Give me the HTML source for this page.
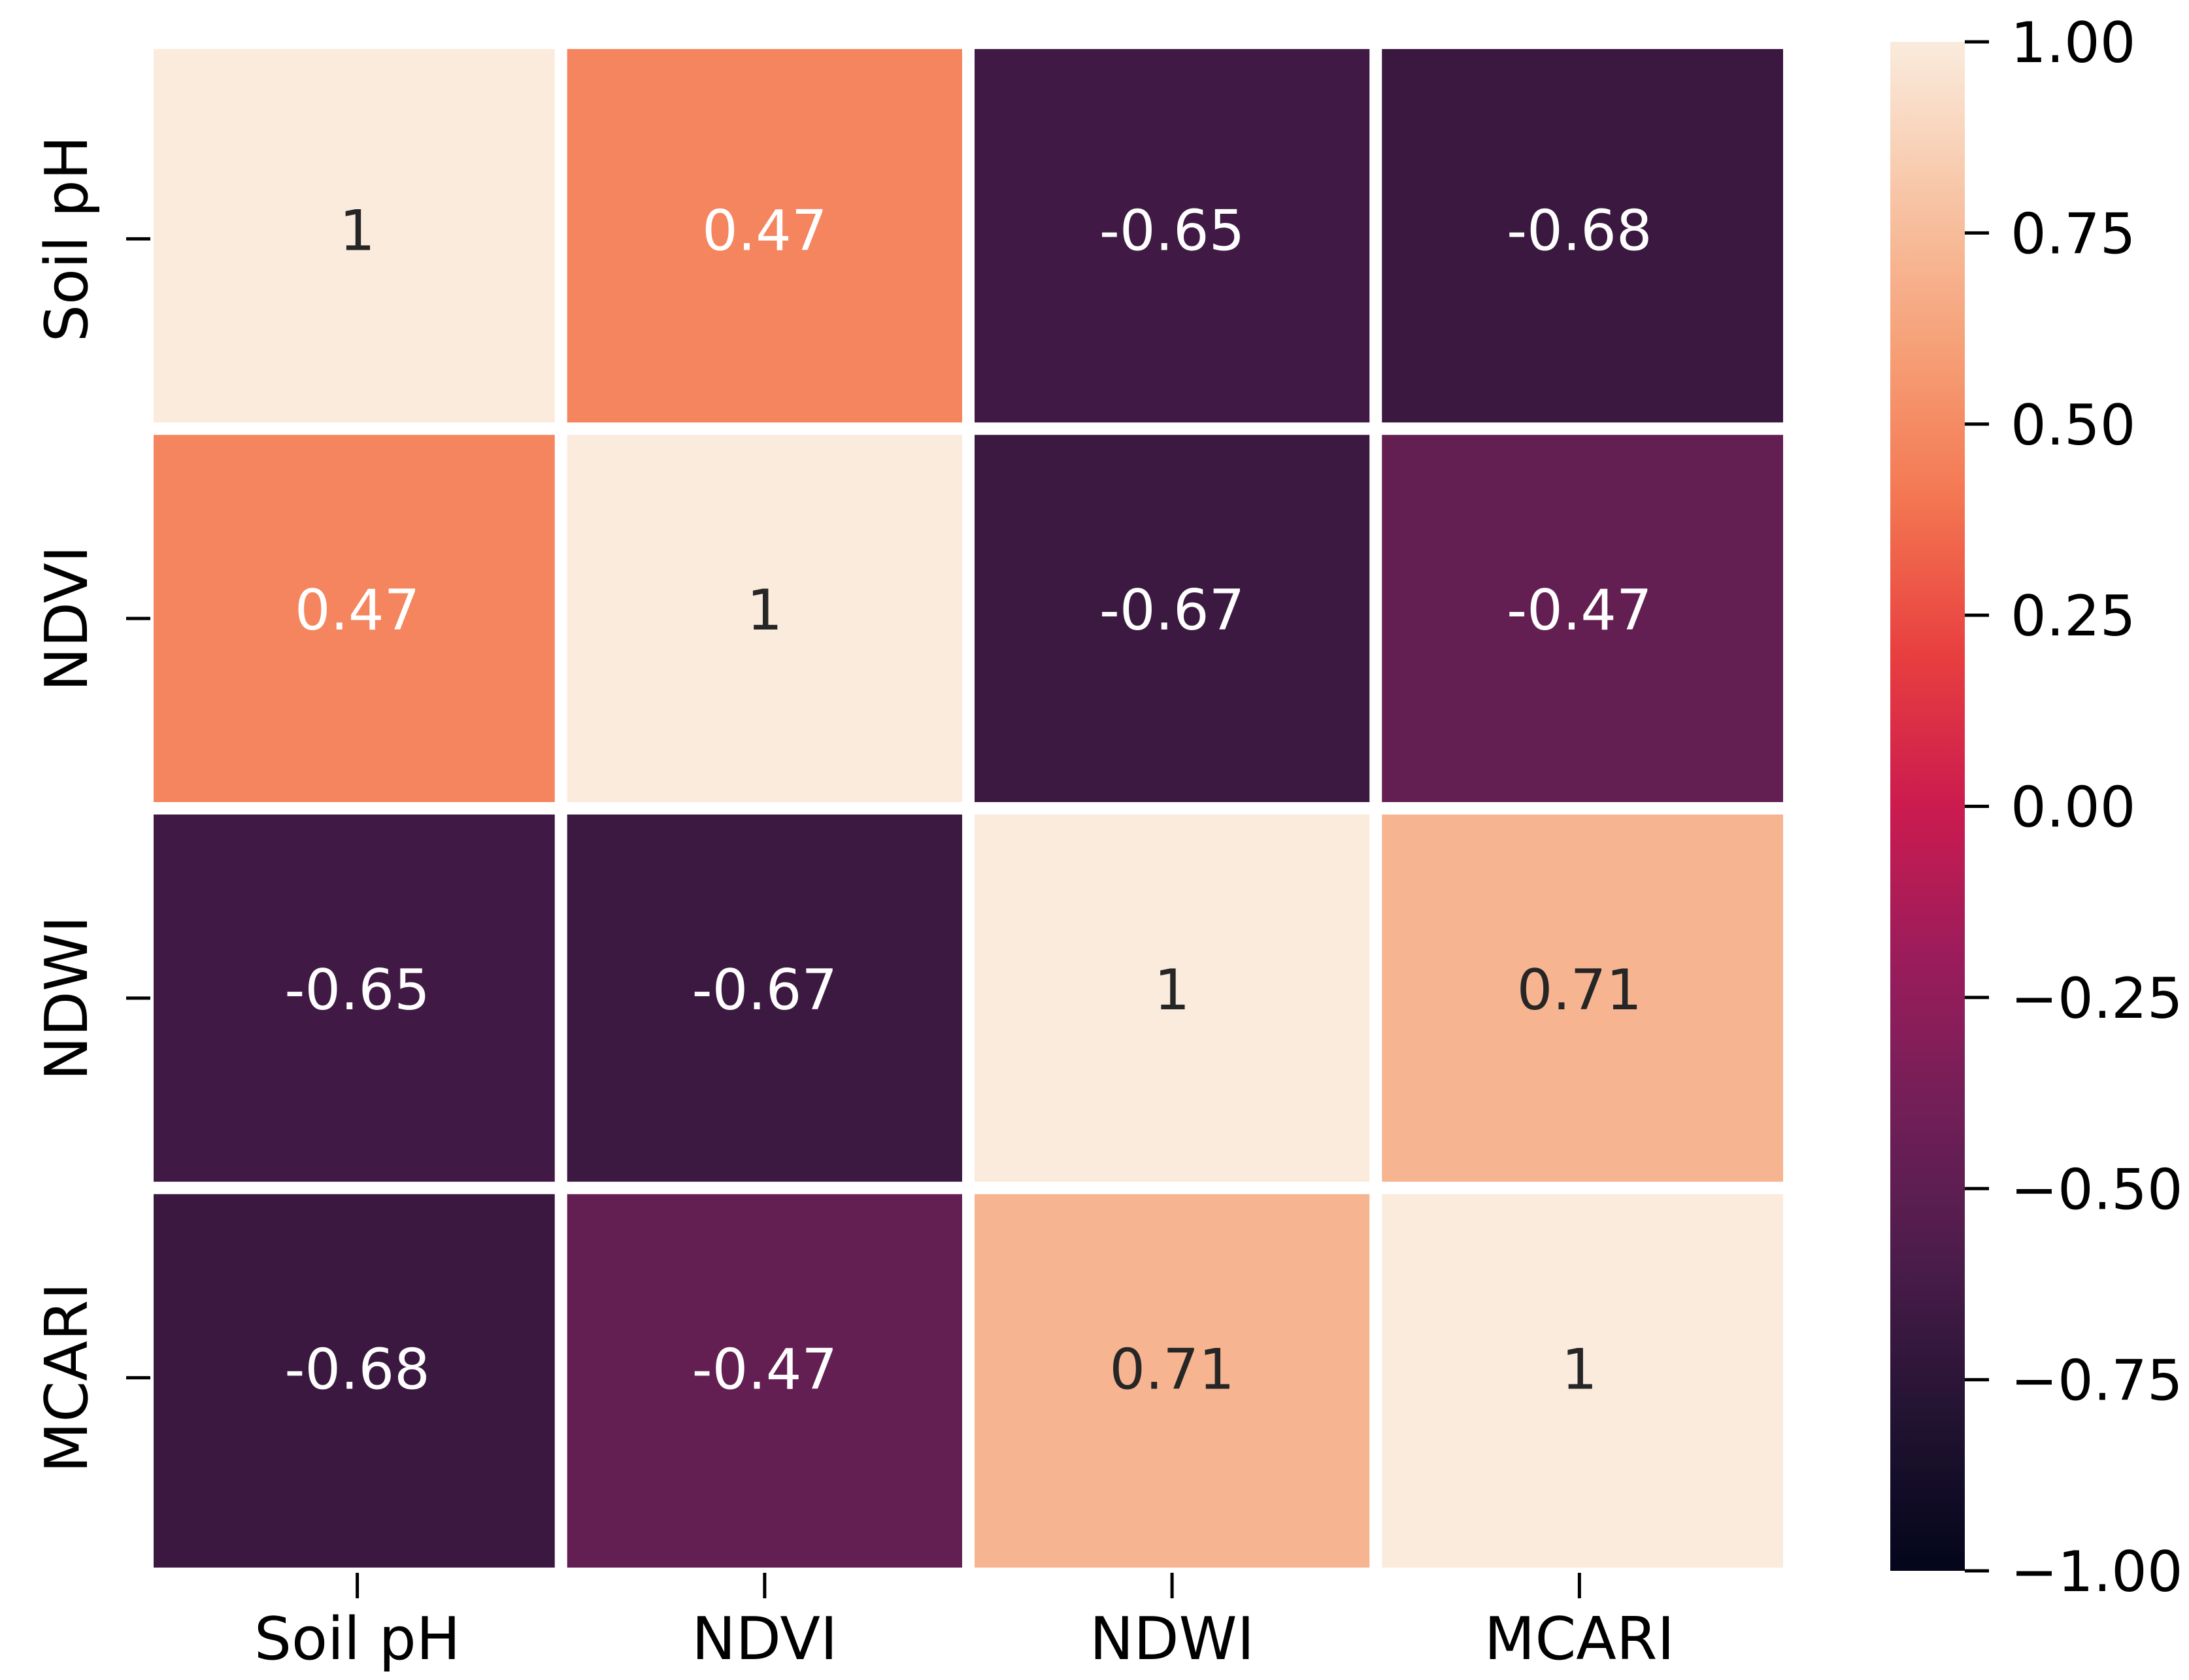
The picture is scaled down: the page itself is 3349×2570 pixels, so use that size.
<!DOCTYPE html>
<html><head><meta charset="utf-8"><style>
html,body{margin:0;padding:0;background:#fff;width:3349px;height:2570px;overflow:hidden}
svg text{font-family:"DejaVu Sans","Liberation Sans",sans-serif}
</style></head><body>
<svg id="chart" width="3349" height="2570" viewBox="0 0 3349 2570" xmlns="http://www.w3.org/2000/svg">
<defs><linearGradient id="cbgrad" x1="0" y1="1" x2="0" y2="0"></linearGradient></defs>
<g id="cells"></g><g id="axes"></g><g id="cbar"></g>
</svg>
<script>
const labels = ["Soil pH","NDVI","NDWI","MCARI"];
const row0 = [1, 0.47, -0.65, -0.68];
const row1 = [0.47, 1, -0.67, -0.47];
const row2 = [-0.65, -0.67, 1, 0.71];
const row3 = [-0.68, -0.47, 0.71, 1];
const matrix = [row0,row1,row2,row3];
const cbTicks = [1.00,0.75,0.50,0.25,0.00,-0.25,-0.50,-0.75,-1.00];
const cbTickLabels = ["1.00","0.75","0.50","0.25","0.00","\u22120.25","\u22120.50","\u22120.75","\u22121.00"];

const NS="http://www.w3.org/2000/svg";
const stops=[[0,"#03051a"],[0.1,"#221331"],[0.2,"#4a1c4a"],[0.3,"#711f57"],[0.4,"#9a1c5b"],[0.5,"#cb1b4f"],[0.6,"#e83f3f"],[0.7,"#f37651"],[0.8,"#f6a077"],[0.9,"#f7c5a6"],[1,"#faebdd"]];
function hex(h){return [1,3,5].map(i=>parseInt(h.substr(i,2),16));}
function cmap(v){const t=Math.max(0,Math.min(1,(v+1)/2));
 for(let i=0;i<stops.length-1;i++){const [a,ca]=stops[i],[b,cb]=stops[i+1];
  if(t<=b){const f=(t-a)/(b-a),A=hex(ca),B=hex(cb);return A.map((x,k)=>Math.round(x+(B[k]-x)*f));}}
 return hex(stops[stops.length-1][1]);}
function lum(c){const l=c.map(x=>{x/=255;return x<=0.03928?x/12.92:Math.pow((x+0.055)/1.055,2.4)});return 0.2126*l[0]+0.7152*l[1]+0.0722*l[2];}
const X0=235,X1=2728,Y0=75,Y1=2398,n=labels.length,gap=19;
const cw=(X1-X0)/n,ch=(Y1-Y0)/n;
const xs=i=>X0+i*cw, ys=j=>Y0+j*ch;
function el(tag,attrs,parent){const e=document.createElementNS(NS,tag);for(const k in attrs)e.setAttribute(k,attrs[k]);parent.appendChild(e);return e;}
const cells=document.getElementById('cells'),axes=document.getElementById('axes'),cbar=document.getElementById('cbar');
matrix.forEach((row,j)=>row.forEach((v,i)=>{
 const c=cmap(v);
 const r=el('rect',{x:xs(i)+(i?gap/2:0),y:ys(j)+(j?gap/2:0),width:cw-(i?gap/2:0)-(i<n-1?gap/2:0),height:ch-(j?gap/2:0)-(j<n-1?gap/2:0),fill:`rgb(${c})`},cells);
 
 
 const t=el('text',{x:xs(i)+cw/2,y:ys(j)+ch/2+17,'text-anchor':'middle','font-size':86,fill:lum(c)<0.408?'#ffffff':'#262626'},cells);
 t.textContent=String(v);
 
 
}));
labels.forEach((lab,i)=>{
 const cx=xs(i)+cw/2;
 const tk=el('line',{x1:cx,x2:cx,y1:2406,y2:2445,stroke:'#000','stroke-width':5},axes);
 
 
 const t=el('text',{x:cx,y:2538,'text-anchor':'middle','font-size':90,fill:'#000'},axes);
 t.textContent=lab;
 
 
 const cy=ys(i)+ch/2;
 const tk2=el('line',{x1:193,x2:230,y1:cy,y2:cy,stroke:'#000','stroke-width':5},axes);
 
 
 const t2=el('text',{x:0,y:0,'text-anchor':'middle','font-size':90,fill:'#000',transform:`translate(133,${cy}) rotate(-90)`},axes);
 t2.textContent=lab;
 
 
});
const grad=document.getElementById('cbgrad');
for(let k=0;k<=40;k++){const v=-1+2*k/40;el('stop',{offset:k/40,'stop-color':`rgb(${cmap(v)})`},grad);}
const CB0=64,CB1=2403,CBX=2892,CBW=114;
const cy=v=>CB1-(v+1)/2*(CB1-CB0);
const cb=el('rect',{x:CBX,y:CB0,width:CBW,height:CB1-CB0,fill:'url(#cbgrad)'},cbar);


cbTicks.forEach((v,k)=>{
 const y=cy(v);
 const l=el('line',{x1:CBX+CBW,x2:CBX+CBW+37,y1:y,y2:y,stroke:'#000','stroke-width':5},cbar);
 
 
 const t=el('text',{x:CBX+CBW+70,y:y+31,'font-size':86,fill:'#000'},cbar);
 t.textContent=cbTickLabels[k];
 
 
});
</script>
</body></html>
